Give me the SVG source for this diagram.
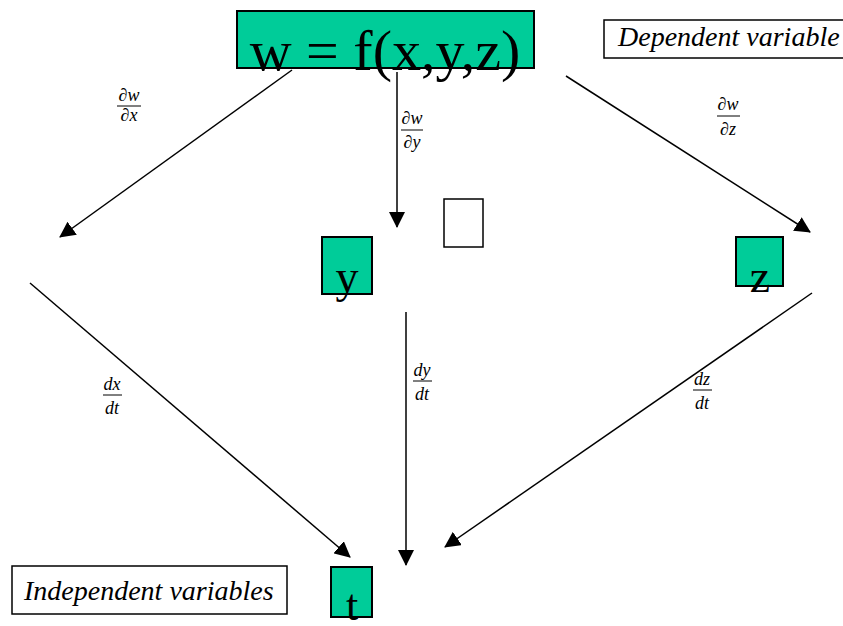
<svg xmlns="http://www.w3.org/2000/svg" width="843" height="626" viewBox="0 0 843 626">
<style>
.node{fill:#00cc99;stroke:#000;stroke-width:2}
.lbl{fill:#fff;stroke:#000;stroke-width:1.5}
.big{font-family:"Liberation Serif","Times New Roman",serif;fill:#000}
.it{font-family:"Liberation Serif","Times New Roman",serif;font-style:italic;fill:#000}
.fr{font-family:"Liberation Serif","Times New Roman",serif;font-style:italic;font-size:18px;fill:#000;text-anchor:middle}
.bar{stroke:#000;stroke-width:1}
.conn line{stroke:#000;stroke-width:1.5}
</style>
<defs>
<marker id="ah" markerUnits="userSpaceOnUse" markerWidth="16" markerHeight="16" viewBox="0 0 16 16" refX="15" refY="8" orient="auto">
<path d="M0,0 L16,8 L0,16 z" fill="#000"/>
</marker>
</defs>
<rect width="843" height="626" fill="#fff"/>
<g class="conn">
<line x1="292" y1="70" x2="60" y2="237" marker-end="url(#ah)"/>
<line x1="397" y1="72" x2="397" y2="227" marker-end="url(#ah)"/>
<line x1="566" y1="76" x2="810" y2="232" marker-end="url(#ah)"/>
<line x1="30" y1="283" x2="350" y2="557" marker-end="url(#ah)"/>
<line x1="406" y1="312" x2="406" y2="565" marker-end="url(#ah)"/>
<line x1="812" y1="293" x2="445" y2="547" marker-end="url(#ah)"/>
</g>
<g id="w">
<rect class="node" x="237" y="11" width="297" height="57"/>
<text class="big" x="385" y="70" font-size="58" text-anchor="middle">w = f(x,y,z)</text>
</g>
<g id="dep">
<rect class="lbl" x="604" y="20" width="242" height="38"/>
<text class="it" x="618" y="46" font-size="28">Dependent variable</text>
</g>
<g id="y">
<rect class="node" x="322" y="237" width="50" height="57"/>
<text class="big" x="347" y="292" font-size="46" text-anchor="middle">y</text>
</g>
<g id="empty">
<rect class="lbl" x="444" y="199" width="39" height="48"/>
</g>
<g id="z">
<rect class="node" x="736" y="237" width="47" height="49"/>
<text class="big" x="760" y="292" font-size="46" text-anchor="middle">z</text>
</g>
<g id="t">
<rect class="node" x="331" y="567" width="41" height="50"/>
<text class="big" x="352" y="620" font-size="44" text-anchor="middle">t</text>
</g>
<g id="indep">
<rect class="lbl" x="12" y="566" width="275" height="48"/>
<text class="it" x="24" y="600" font-size="28">Independent variables</text>
</g>
<g id="labels">
<text class="fr" x="129" y="101">∂w</text><line class="bar" x1="117" y1="106" x2="141" y2="106"/><text class="fr" x="129" y="121">∂x</text>
<text class="fr" x="412" y="124">∂w</text><line class="bar" x1="401" y1="130" x2="423" y2="130"/><text class="fr" x="412" y="148">∂y</text>
<text class="fr" x="728" y="110">∂w</text><line class="bar" x1="717" y1="116" x2="740" y2="116"/><text class="fr" x="728" y="135">∂z</text>
<text class="fr" x="112" y="390">dx</text><line class="bar" x1="103" y1="395" x2="122" y2="395"/><text class="fr" x="112" y="414">dt</text>
<text class="fr" x="422" y="376">dy</text><line class="bar" x1="413" y1="381" x2="432" y2="381"/><text class="fr" x="422" y="400">dt</text>
<text class="fr" x="702" y="385">dz</text><line class="bar" x1="693" y1="390" x2="712" y2="390"/><text class="fr" x="702" y="409">dt</text>
</g>
</svg>
